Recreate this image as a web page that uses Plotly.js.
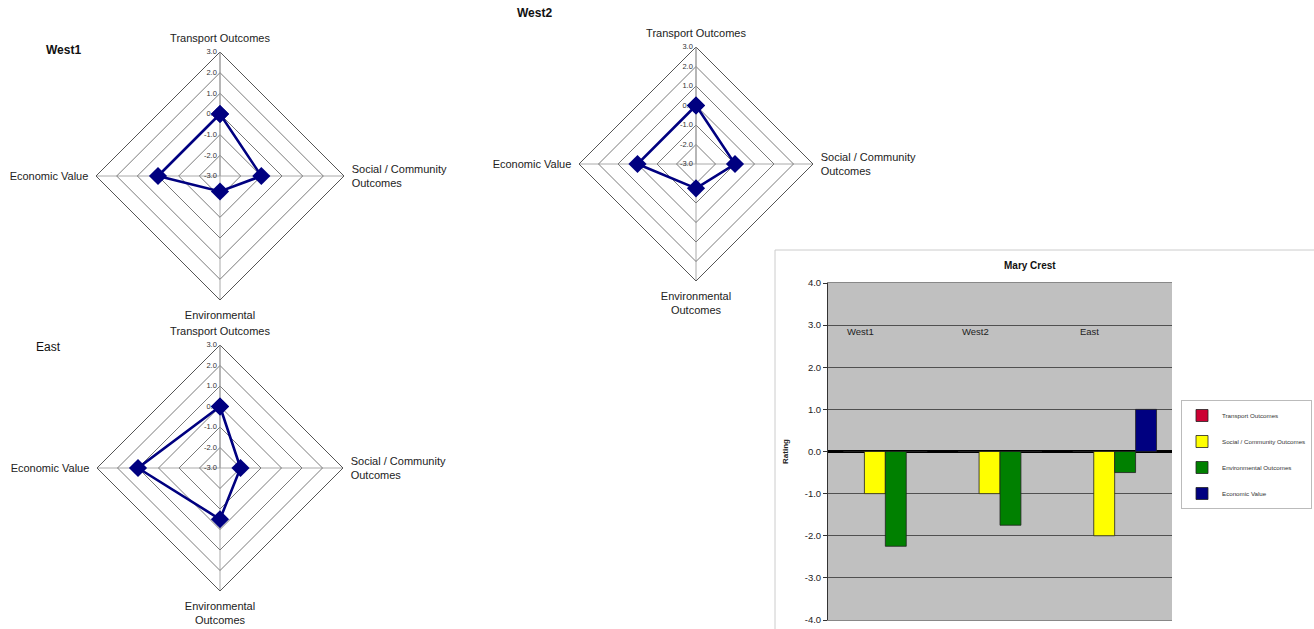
<!DOCTYPE html>
<html>
<head>
<meta charset="utf-8">
<script src="https://cdn.plot.ly/plotly-3.0.1.min.js"></script>
<style>
  html, body { margin: 0; padding: 0; background: #ffffff; overflow: hidden; }
  #chart { width: 1314px; height: 629px; }
</style>
</head>
<body>
<div id="chart"></div>
<script>
// Outcome dimensions, clockwise from the top of each radar
const dimensions = ['Transport Outcomes', 'Social / Community Outcomes', 'Environmental Outcomes', 'Economic Value'];
const sites = ['West1', 'West2', 'East'];

// Ratings per dimension for each site (scale -3 .. 3)
const transportRatings = [0, 0, 0];
const socialRatings = [-1, -1, -2];
const environmentalRatings = [-2.25, -1.75, -0.5];
const economicRatings = [0, 0, 1];

const radialTicks = [3, 2, 1, 0, -1, -2, -3];
const barTicks = [4, 3, 2, 1, 0, -1, -2, -3, -4];

const FONT = 'Liberation Sans, Arial, sans-serif';
const W = 1314, H = 629;
const px = v => v / W;
const py = v => 1 - v / H;

// radar placement: centre (cx, cy) and polygon radius R in pixels;
// each radar has a diamond grid subplot and a plain overlay subplot for the data
const radars = [
  { grid: 'polar',  data: 'polar4', site: 0, cx: 220, cy: 176, R: 124, envLabel: 'Environmental' },
  { grid: 'polar2', data: 'polar5', site: 1, cx: 696, cy: 164, R: 117, envLabel: 'Environmental<br>Outcomes' },
  { grid: 'polar3', data: 'polar6', site: 2, cx: 220, cy: 468, R: 123, envLabel: 'Environmental<br>Outcomes' }
];

const traces = [];
const layout = {
  width: W, height: H,
  margin: { l: 0, r: 0, t: 0, b: 0, autoexpand: false },
  paper_bgcolor: '#ffffff',
  font: { family: FONT, color: '#222' },
  showlegend: true,
  annotations: [],
  shapes: []
};

radars.forEach(rd => {
  const i = rd.site;
  const vals = [transportRatings[i], socialRatings[i], environmentalRatings[i], economicRatings[i]];
  const domain = {
    x: [px(rd.cx - rd.R), px(rd.cx + rd.R)],
    y: [py(rd.cy + rd.R), py(rd.cy - rd.R)]
  };
  // an empty trace keeps the diamond grid subplot alive
  traces.push({
    type: 'scatterpolar', subplot: rd.grid,
    r: [], theta: [], mode: 'lines', showlegend: false
  });
  // closed outline with diamond markers
  traces.push({
    type: 'scatterpolar',
    subplot: rd.data,
    r: vals.concat([vals[0]]),
    theta: dimensions.concat([dimensions[0]]),
    mode: 'lines+markers',
    line: { color: '#000080', width: 2.6 },
    marker: { symbol: 'diamond', size: 14, color: '#000080' },
    showlegend: false
  });
  layout[rd.grid] = {
    domain: domain,
    gridshape: 'linear',
    bgcolor: 'rgba(0,0,0,0)',
    radialaxis: {
      range: [-3, 3],
      tickvals: radialTicks,
      ticktext: radialTicks.map(v => v.toFixed(1)),
      angle: 90,
      tickangle: 90,
      side: 'counterclockwise',
      showline: true,
      linecolor: '#999',
      linewidth: 1,
      gridcolor: '#7a7a7a',
      gridwidth: 1,
      ticks: '',
      tickfont: { family: FONT, size: 7.5, color: '#333' }
    },
    angularaxis: {
      type: 'category',
      categoryarray: dimensions,
      tickvals: dimensions,
      ticktext: ['Transport Outcomes', 'Social / Community<br>Outcomes', rd.envLabel, 'Economic Value'],
      rotation: 90,
      direction: 'clockwise',
      showline: true,
      linecolor: '#555',
      linewidth: 1,
      gridcolor: '#aaa',
      ticks: 'outside',
      ticklen: 5,
      tickcolor: 'rgba(0,0,0,0)',
      tickfont: { family: FONT, size: 11, color: '#222' }
    }
  };
  layout[rd.data] = {
    domain: domain,
    bgcolor: 'rgba(0,0,0,0)',
    radialaxis: { range: [-3, 3], visible: false, showgrid: false, showline: false, showticklabels: false, ticks: '' },
    angularaxis: {
      type: 'category',
      categoryarray: dimensions,
      rotation: 90,
      direction: 'clockwise',
      visible: false,
      showgrid: false, showline: false, showticklabels: false, ticks: ''
    }
  };
});

// radar titles
const titleFont = { family: FONT, size: 12, color: '#111' };
layout.annotations.push(
  { text: '<b>West1</b>', x: px(63), y: py(50), xref: 'paper', yref: 'paper', xanchor: 'center', yanchor: 'middle', showarrow: false, font: titleFont },
  { text: '<b>West2</b>', x: px(534), y: py(13), xref: 'paper', yref: 'paper', xanchor: 'center', yanchor: 'middle', showarrow: false, font: titleFont },
  { text: 'East', x: px(48), y: py(347), xref: 'paper', yref: 'paper', xanchor: 'center', yanchor: 'middle', showarrow: false, font: titleFont }
);

// grouped bar chart of the same ratings
const barSeries = [
  { name: 'Transport Outcomes', y: transportRatings, color: '#cc0033' },
  { name: 'Social / Community Outcomes', y: socialRatings, color: '#ffff00' },
  { name: 'Environmental Outcomes', y: environmentalRatings, color: '#008000' },
  { name: 'Economic Value', y: economicRatings, color: '#000080' }
];
barSeries.forEach((s, k) => {
  traces.push({
    type: 'bar',
    x: sites,
    y: s.y,
    name: s.name,
    legendgroup: 'g' + k,
    xaxis: 'x', yaxis: 'y',
    marker: { color: s.color, line: { color: '#222', width: 0.8 } }
  });
});

const plotL = 828, plotR = 1172, plotT = 283, plotB = 620;
layout.xaxis = {
  domain: [px(plotL), px(plotR)],
  anchor: 'y',
  type: 'category',
  showticklabels: false,
  showgrid: false,
  showline: true,
  linecolor: '#888',
  mirror: true,
  ticks: ''
};
layout.yaxis = {
  domain: [py(plotB), py(plotT)],
  anchor: 'x',
  range: [-4, 4],
  tickvals: barTicks,
  ticktext: barTicks.map(v => v.toFixed(1)),
  showgrid: true,
  gridcolor: '#333',
  gridwidth: 0.8,
  zeroline: true,
  zerolinecolor: '#000',
  zerolinewidth: 2.2,
  showline: true,
  linecolor: '#333',
  mirror: false,
  ticks: 'outside',
  ticklen: 4,
  tickcolor: '#333',
  tickfont: { family: FONT, size: 9.5, color: '#222' },
  title: { text: '<b>Rating</b>', font: { family: FONT, size: 8, color: '#222' }, standoff: 14 }
};
layout.plot_bgcolor = '#c0c0c0';
layout.bargap = 0.27;
layout.bargroupgap = 0;

// category names drawn inside the plot, near the top
sites.forEach(s => {
  layout.annotations.push({
    text: s, x: s, y: 2.85, xref: 'x', yref: 'y', xanchor: 'center', xshift: -25, showarrow: false,
    font: { family: FONT, size: 9.5, color: '#222' }
  });
});
layout.annotations.push({
  text: '<b>Mary Crest</b>', x: px(1030), y: py(265), xref: 'paper', yref: 'paper',
  xanchor: 'center', yanchor: 'middle', showarrow: false,
  font: { family: FONT, size: 10, color: '#111' }
});

layout.legend = {
  x: px(1181), y: py(400), xanchor: 'left', yanchor: 'top',
  bgcolor: '#ffffff',
  bordercolor: '#bbb',
  borderwidth: 1,
  font: { family: FONT, size: 6.2, color: '#333' },
  traceorder: 'grouped',
  tracegroupgap: 7,
  itemwidth: 30
};

// light frame round the bar chart area
layout.shapes.push({
  type: 'path', xref: 'paper', yref: 'paper',
  path: `M ${px(775)} ${py(629)} L ${px(775)} ${py(250)} L ${px(1314)} ${py(250)}`,
  line: { color: '#ccc', width: 1 }
});

Plotly.newPlot('chart', traces, layout, { displayModeBar: false, staticPlot: true });
</script>
</body>
</html>
